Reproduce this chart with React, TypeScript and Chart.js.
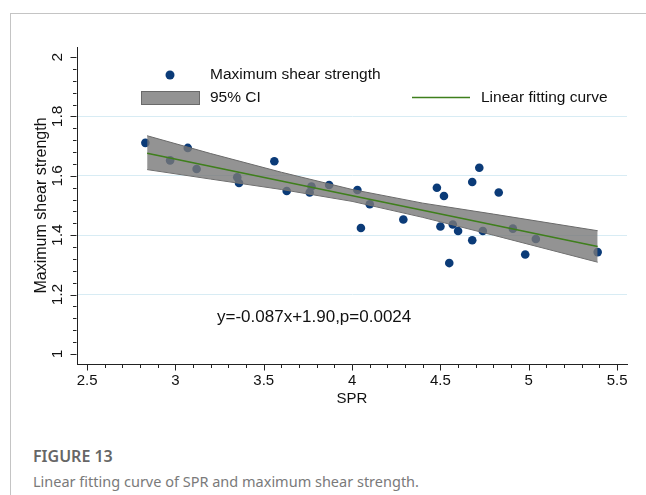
import React, { useEffect, useRef } from 'react';
import { Chart, registerables } from 'chart.js';

Chart.register(...registerables);

// ---- data ----
const spr = [2.83, 3.07, 2.97, 3.12, 3.56, 3.35, 3.36, 3.63, 3.76, 3.77, 3.87, 4.03, 4.10, 4.48, 4.52, 4.72, 4.68, 4.83, 4.29, 4.50, 4.57, 4.60, 4.68, 4.74, 4.91, 4.55, 4.98, 5.04, 5.39, 4.05];
const shearStrength = [1.711, 1.694, 1.652, 1.623, 1.649, 1.595, 1.576, 1.549, 1.544, 1.564, 1.569, 1.552, 1.504, 1.560, 1.532, 1.627, 1.579, 1.544, 1.453, 1.429, 1.436, 1.414, 1.383, 1.414, 1.422, 1.306, 1.335, 1.387, 1.343, 1.424];

const fitX = [2.84, 5.39];
const fitY = [1.676, 1.362];

const ciX = [2.84, 3.2, 3.6, 4.0, 4.4, 4.8, 5.39];
const ciUpper = [1.735, 1.675, 1.612, 1.554, 1.508, 1.471, 1.415];
const ciLower = [1.621, 1.589, 1.554, 1.514, 1.460, 1.400, 1.309];

const xTicks = [2.5, 3, 3.5, 4, 4.5, 5, 5.5];
const xMinorTicks = [2.6, 2.7, 2.8, 2.9, 3.1, 3.2, 3.3, 3.4, 3.6, 3.7, 3.8, 3.9, 4.1, 4.2, 4.3, 4.4, 4.6, 4.7, 4.8, 4.9, 5.1, 5.2, 5.3, 5.4];
const yTicks = [1, 1.2, 1.4, 1.6, 1.8, 2];
const yMinorTicks = [1.04, 1.08, 1.12, 1.16, 1.24, 1.28, 1.32, 1.36, 1.44, 1.48, 1.52, 1.56, 1.64, 1.68, 1.72, 1.76, 1.84, 1.88, 1.92, 1.96];
const gridValues = [1.2, 1.4, 1.6, 1.8];

const equationText = 'y=-0.087x+1.90,p=0.0024';
const legendLabels = ['Maximum shear strength', '95% CI', 'Linear fitting curve'];

const FONT = '"Liberation Sans", Arial, sans-serif';
const NAVY = '#0b3b78';
const GREEN = '#3f7f1c';

const decorPlugin = {
  id: 'decor',
  afterDraw(chart: any) {
    const ctx = chart.ctx as CanvasRenderingContext2D;
    const xs = chart.scales.x;
    const ys = chart.scales.y;
    const area = chart.chartArea;
    ctx.save();
    ctx.strokeStyle = '#222';
    ctx.lineWidth = 1;
    // x ticks
    const xb = Math.round(area.bottom) + 0.5;
    xTicks.forEach((v) => {
      const px = Math.round(xs.getPixelForValue(v)) + 0.5;
      ctx.beginPath(); ctx.moveTo(px, xb); ctx.lineTo(px, xb + 6); ctx.stroke();
    });
    xMinorTicks.forEach((v) => {
      const px = Math.round(xs.getPixelForValue(v)) + 0.5;
      ctx.beginPath(); ctx.moveTo(px, xb); ctx.lineTo(px, xb + 3.5); ctx.stroke();
    });
    // y ticks
    const yl = Math.round(area.left) - 0.5;
    yTicks.forEach((v) => {
      const py = Math.round(ys.getPixelForValue(v)) + 0.5;
      ctx.beginPath(); ctx.moveTo(yl, py); ctx.lineTo(yl - 6, py); ctx.stroke();
    });
    yMinorTicks.forEach((v) => {
      const py = Math.round(ys.getPixelForValue(v)) + 0.5;
      ctx.beginPath(); ctx.moveTo(yl, py); ctx.lineTo(yl - 3.5, py); ctx.stroke();
    });

    // legend
    ctx.fillStyle = NAVY;
    ctx.beginPath(); ctx.arc(170, 75, 4.5, 0, Math.PI * 2); ctx.fill();
    ctx.fillStyle = 'rgba(128,128,128,0.85)';
    ctx.fillRect(141, 91, 59, 14);
    ctx.strokeStyle = '#6a6a6a';
    ctx.strokeRect(141.5, 91.5, 58, 13);
    ctx.strokeStyle = GREEN;
    ctx.lineWidth = 1.5;
    ctx.beginPath(); ctx.moveTo(412, 97.5); ctx.lineTo(470, 97.5); ctx.stroke();

    ctx.fillStyle = '#111';
    ctx.font = `15.5px ${FONT}`;
    ctx.textAlign = 'left';
    ctx.textBaseline = 'middle';
    ctx.fillText(legendLabels[0], 210, 75);
    ctx.fillText(legendLabels[1], 210, 98);
    ctx.fillText(legendLabels[2], 481, 98);

    // equation
    ctx.font = `17px ${FONT}`;
    ctx.fillText(equationText, 217, 317);
    ctx.restore();
  },
};

export default function App() {
  const ref = useRef<HTMLCanvasElement | null>(null);

  useEffect(() => {
    if (!ref.current) return;
    const chart = new Chart(ref.current, {
      type: 'scatter',
      data: {
        datasets: [
          {
            type: 'line',
            label: legendLabels[2],
            data: fitX.map((x, i) => ({ x, y: fitY[i] })),
            borderColor: GREEN,
            borderWidth: 1.6,
            pointRadius: 0,
            fill: false,
          },
          {
            type: 'line',
            label: '95% CI upper',
            data: ciX.map((x, i) => ({ x, y: ciUpper[i] })),
            borderColor: '#6a6a6a',
            borderWidth: 1,
            backgroundColor: 'rgba(120,120,120,0.8)',
            pointRadius: 0,
            fill: '+1',
          },
          {
            type: 'line',
            label: '95% CI lower',
            data: ciX.map((x, i) => ({ x, y: ciLower[i] })),
            borderColor: '#6a6a6a',
            borderWidth: 1,
            pointRadius: 0,
            fill: false,
          },
          {
            type: 'scatter',
            label: legendLabels[0],
            data: spr.map((x, i) => ({ x, y: shearStrength[i] })),
            backgroundColor: NAVY,
            borderColor: NAVY,
            pointRadius: 4.3,
            borderWidth: 0,
          },
        ],
      },
      options: {
        animation: false,
        responsive: false,
        maintainAspectRatio: false,
        layout: { padding: { left: 0, top: 47, right: 19, bottom: 0 } },
        plugins: { legend: { display: false }, tooltip: { enabled: false } },
        scales: {
          x: {
            type: 'linear',
            min: 2.443,
            max: 5.556,
            afterBuildTicks: (s: any) => { s.ticks = xTicks.map((v) => ({ value: v })); },
            afterFit: (s: any) => { s.height = 56; },
            ticks: {
              font: { family: FONT, size: 15 },
              color: '#111',
              padding: 8,
              callback: (v: any) => String(v),
            },
            grid: { display: true, drawOnChartArea: false, drawTicks: false },
            border: { display: true, color: '#222', width: 1 },
            title: {
              display: true,
              text: 'SPR',
              font: { family: FONT, size: 15 },
              color: '#111',
              padding: { top: 0, bottom: 12 },
            },
          },
          y: {
            type: 'linear',
            min: 0.966,
            max: 2.034,
            afterBuildTicks: (s: any) => { s.ticks = yTicks.map((v) => ({ value: v })); },
            afterFit: (s: any) => { s.width = 77; },
            ticks: {
              font: { family: FONT, size: 15.5 },
              color: '#111',
              padding: 9,
              minRotation: 90,
              maxRotation: 90,
              crossAlign: 'center',
              callback: (v: any) => String(v),
            },
            grid: {
              display: true,
              drawTicks: false,
              color: (c: any) => (c.tick && gridValues.includes(c.tick.value) ? '#d8ecf4' : 'rgba(0,0,0,0)'),
              lineWidth: 1,
            },
            border: { display: true, color: '#222', width: 1 },
            title: {
              display: true,
              text: 'Maximum shear strength',
              font: { family: FONT, size: 16 },
              color: '#111',
              padding: { top: 32, bottom: 0 },
            },
          },
        },
      },
      plugins: [decorPlugin],
    } as any);
    return () => chart.destroy();
  }, []);

  return (
    <div style={{ position: 'fixed', left: 0, top: 0, width: 646, height: 495, background: '#fff', overflow: 'hidden' }}>
      <div style={{ position: 'absolute', left: 10, top: 13, width: 640, height: 490, borderLeft: '1px solid #c4c4c4', borderTop: '1px solid #c4c4c4' }} />
      <canvas ref={ref} width={646} height={420} style={{ position: 'absolute', left: 0, top: 0, width: 646, height: 420 }} />
      <div style={{ position: 'absolute', left: 33, top: 445, fontFamily: '"Noto Sans", "Open Sans", sans-serif', fontSize: 16, fontWeight: 600, color: '#666', lineHeight: '22px' }}>
        FIGURE 13
      </div>
      <div style={{ position: 'absolute', left: 33, top: 470, fontFamily: '"Noto Sans", "Open Sans", sans-serif', fontSize: 14.5, color: '#7a7a7a', lineHeight: '22px', whiteSpace: 'nowrap' }}>
        Linear fitting curve of SPR and maximum shear strength.
      </div>
    </div>
  );
}
